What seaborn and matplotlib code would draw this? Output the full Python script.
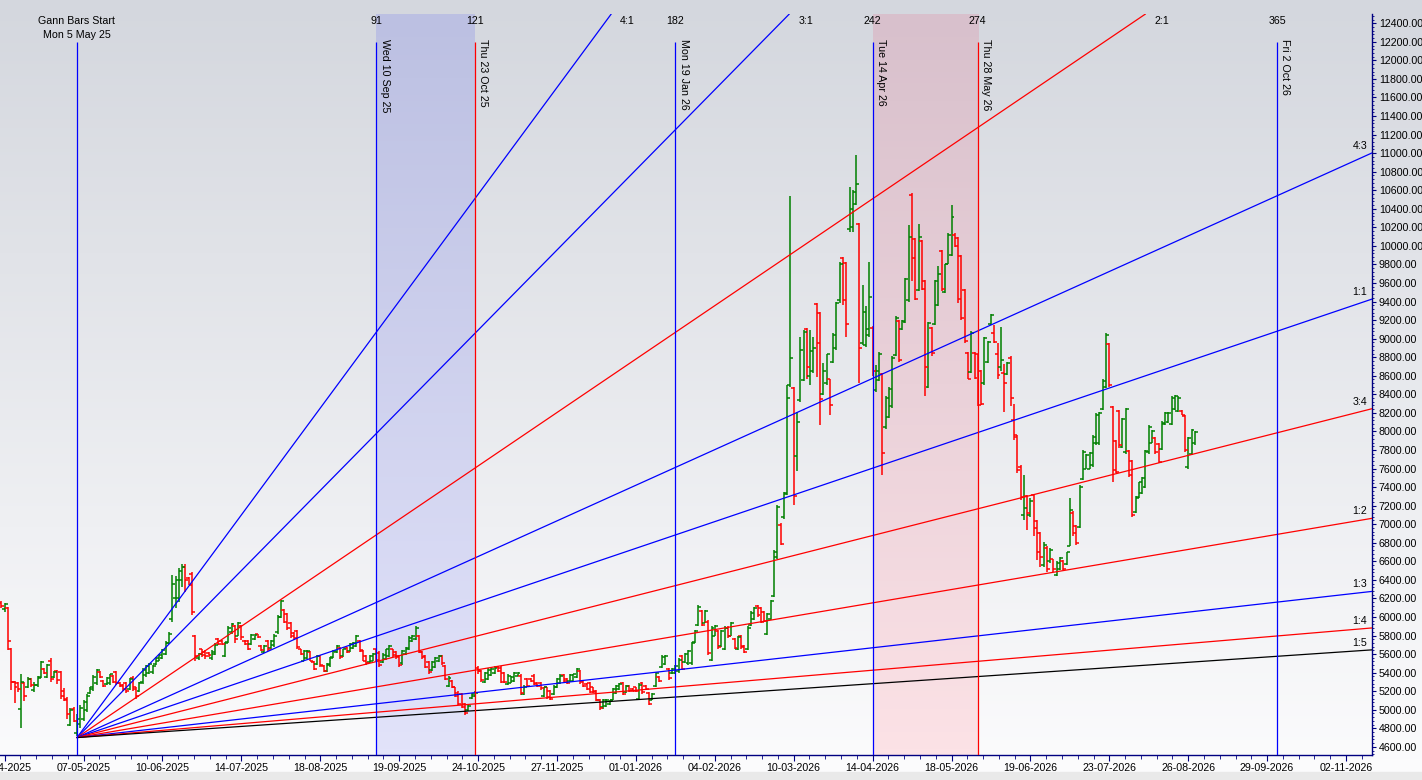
import numpy as np
import pandas as pd
import matplotlib
matplotlib.use('Agg')
import matplotlib.pyplot as plt
import matplotlib.transforms as mtransforms
from matplotlib.patches import Rectangle
from matplotlib.ticker import MultipleLocator, FixedLocator, FuncFormatter
import seaborn as sns

# ---- daily bars (bar 0 = Mon 5 May 25) ----
first_bar = -23
bar_open = [
    6150, 6090, 6100, 5660, 5300, 5290, 5010, 5290, 5250, 5330,
    5210, 5270, 5350, 5440, 5350, 5530, 5350, 5420, 5410, 5200,
    5120, 4840, 5010, 4750, 4850, 4900, 5000, 5180, 5220, 5290,
    5410, 5310, 5280, 5290, 5360, 5410, 5290, 5270, 5290, 5220,
    5340, 5240, 5200, 5300, 5370, 5400, 5410, 5490, 5530, 5560,
    5600, 5720, 5980, 6200, 6200, 6400, 6540, 6420, 6460, 5800,
    5560, 5650, 5620, 5610, 5560, 5600, 5760, 5740, 5580, 5730,
    5840, 5900, 5800, 5900, 5740, 5740, 5710, 5760, 5815, 5690,
    5620, 5740, 5670, 5700, 5840, 6000, 6080, 6030, 5940, 5830,
    5850, 5650, 5530, 5560, 5620, 5510, 5490, 5580, 5470, 5420,
    5480, 5570, 5620, 5670, 5580, 5670, 5630, 5670, 5690, 5740,
    5630, 5580, 5510, 5530, 5650, 5610, 5510, 5550, 5580, 5650,
    5620, 5580, 5500, 5600, 5650, 5740, 5760, 5790, 5620, 5580,
    5510, 5430, 5460, 5520, 5580, 5470, 5260, 5310, 5240, 5180,
    5170, 5060, 5000, 5130, 5150, 5450, 5420, 5300, 5330, 5370,
    5400, 5460, 5450, 5400, 5280, 5290, 5310, 5360, 5360, 5170,
    5330, 5330, 5360, 5290, 5290, 5150, 5240, 5200, 5170, 5240,
    5290, 5370, 5330, 5310, 5310, 5350, 5420, 5310, 5280, 5290,
    5240, 5200, 5110, 5030, 5040, 5060, 5110, 5180, 5220, 5290,
    5190, 5260, 5225, 5240, 5120, 5290, 5260, 5180, 5110, 5260,
    5350, 5460, 5490, 5440, 5400, 5400, 5420, 5580, 5510, 5500,
    5500, 5730, 5910, 6060, 5940, 5950, 5540, 5800, 5850, 5690,
    5660, 5880, 5800, 5760, 5660, 5790, 5690, 5660, 5910, 5980,
    6120, 6100, 6050, 5820, 5980, 6230, 6650, 6990, 7080, 7330,
    8500, 8470, 7730, 8340, 8550, 9100, 8600, 8650, 9370, 9280,
    8400, 8520, 8560, 8750, 8900, 9420, 9870, 9820, 10180, 10200,
    10450, 10240, 8950, 8930, 9040, 9120, 8450, 8550, 8620, 8050,
    8160, 8270, 8820, 9190, 9100, 9180, 9420, 10550, 10070, 9520,
    10050, 9620, 8480, 9120, 9160, 9360, 9940, 9500, 9810, 9900,
    10120, 10090, 9890, 9530, 8850, 8640, 8850, 8830, 8650, 8520,
    8750, 9160, 9060, 8840, 8700, 8630, 8620, 8790, 8120, 7940,
    7620, 7100, 7300, 7100, 7320, 7030, 6900, 6560, 6740, 6600,
    6620, 6450, 6520, 6600, 6570, 6770, 7120, 6980, 6970, 7490,
    7600, 7600, 7640, 7870, 7870, 8240, 8480, 8940, 8260, 7900,
    8220, 7830, 7780, 7790, 7680, 7130, 7290, 7340, 7400, 7780,
    7880, 7930, 7860, 7810, 8080, 8100, 8080, 8240, 8220, 8225,
    8170, 7620, 7760, 7870,
]
bar_high = [
    6170, 6150, 6110, 5670, 5310, 5300, 5390, 5300, 5350, 5340,
    5300, 5360, 5530, 5450, 5490, 5560, 5420, 5430, 5420, 5230,
    5140, 5020, 5030, 4950, 5050, 5100, 5170, 5250, 5370, 5440,
    5420, 5320, 5350, 5390, 5370, 5420, 5300, 5280, 5300, 5340,
    5360, 5250, 5300, 5450, 5480, 5500, 5480, 5570, 5600, 5660,
    5740, 5840, 6450, 6440, 6530, 6570, 6570, 6430, 6490, 5810,
    5610, 5660, 5640, 5620, 5640, 5720, 5770, 5750, 5730, 5900,
    5930, 5910, 5950, 5910, 5750, 5750, 5820, 5820, 5820, 5700,
    5700, 5750, 5750, 5820, 6020, 6180, 6090, 6040, 5950, 5840,
    5860, 5660, 5640, 5640, 5630, 5520, 5590, 5590, 5480, 5500,
    5570, 5640, 5700, 5680, 5660, 5680, 5720, 5730, 5810, 5750,
    5640, 5590, 5590, 5610, 5660, 5630, 5610, 5660, 5700, 5660,
    5630, 5590, 5640, 5680, 5790, 5810, 5900, 5810, 5630, 5590,
    5520, 5520, 5570, 5590, 5590, 5480, 5360, 5320, 5250, 5200,
    5180, 5070, 5050, 5180, 5200, 5470, 5430, 5410, 5450, 5450,
    5470, 5470, 5470, 5410, 5380, 5360, 5410, 5410, 5380, 5270,
    5340, 5340, 5380, 5300, 5300, 5250, 5250, 5210, 5270, 5340,
    5380, 5380, 5340, 5380, 5390, 5450, 5430, 5320, 5290, 5300,
    5250, 5210, 5120, 5120, 5120, 5110, 5230, 5270, 5290, 5300,
    5270, 5270, 5230, 5250, 5290, 5300, 5270, 5190, 5180, 5410,
    5360, 5590, 5590, 5450, 5450, 5480, 5560, 5590, 5610, 5640,
    5730, 5860, 6130, 6080, 6080, 5970, 5900, 5910, 5860, 5860,
    5900, 5900, 5950, 5770, 5790, 5810, 5700, 5900, 6060, 6110,
    6130, 6110, 6060, 6040, 6180, 6720, 7210, 7010, 7350, 8500,
    10540, 8480, 8210, 9020, 9090, 9110, 9090, 9020, 9380, 9290,
    8740, 8840, 8570, 9060, 9400, 9830, 9880, 9830, 10640, 10600,
    10980, 10250, 9580, 9350, 9830, 9140, 8720, 8860, 8630, 8380,
    8480, 8810, 9240, 9200, 9200, 9650, 10230, 10570, 10080, 10240,
    10060, 9630, 9180, 9130, 9630, 9780, 9960, 9810, 10140, 10440,
    10140, 10100, 9900, 9540, 8860, 9080, 8860, 8840, 8660, 9020,
    8970, 9270, 9150, 8950, 9130, 8730, 8750, 8810, 8300, 7960,
    7640, 7530, 7320, 7280, 7330, 7050, 6920, 6810, 6760, 6740,
    6630, 6600, 6650, 6610, 6700, 7280, 7140, 6990, 7420, 7800,
    7760, 7780, 7960, 8200, 8210, 8560, 9060, 8950, 8270, 7910,
    8230, 8140, 8250, 7800, 7690, 7300, 7460, 7510, 7800, 8070,
    8020, 7940, 7870, 8110, 8210, 8210, 8380, 8390, 8380, 8230,
    8180, 7940, 8030, 8000,
]
bar_low = [
    6100, 6050, 5640, 5210, 5070, 5190, 4800, 5090, 5230, 5250,
    5190, 5250, 5340, 5380, 5340, 5300, 5340, 5280, 5120, 5090,
    4900, 4820, 4870, 4720, 4800, 4880, 4980, 5170, 5200, 5270,
    5340, 5250, 5270, 5270, 5290, 5270, 5250, 5200, 5180, 5210,
    5200, 5120, 5190, 5280, 5350, 5380, 5390, 5480, 5520, 5550,
    5590, 5710, 5950, 6100, 6160, 6320, 6270, 6340, 6020, 5520,
    5540, 5570, 5550, 5570, 5540, 5590, 5700, 5700, 5570, 5720,
    5820, 5720, 5790, 5750, 5700, 5640, 5700, 5750, 5770, 5630,
    5610, 5630, 5660, 5680, 5820, 5990, 5930, 5860, 5770, 5750,
    5660, 5590, 5520, 5550, 5520, 5430, 5480, 5460, 5410, 5410,
    5460, 5560, 5610, 5550, 5570, 5610, 5620, 5660, 5680, 5620,
    5520, 5480, 5500, 5520, 5520, 5460, 5500, 5540, 5570, 5570,
    5550, 5460, 5480, 5590, 5640, 5730, 5750, 5610, 5550, 5450,
    5390, 5420, 5450, 5510, 5480, 5320, 5250, 5230, 5140, 5050,
    5020, 4940, 4990, 5120, 5140, 5390, 5300, 5290, 5320, 5360,
    5390, 5410, 5290, 5290, 5270, 5290, 5300, 5360, 5160, 5160,
    5250, 5300, 5270, 5250, 5210, 5140, 5120, 5100, 5160, 5230,
    5280, 5300, 5280, 5300, 5300, 5340, 5280, 5250, 5210, 5180,
    5180, 5090, 5000, 5010, 5030, 5050, 5100, 5170, 5210, 5160,
    5180, 5190, 5190, 5190, 5100, 5170, 5210, 5050, 5100, 5250,
    5300, 5450, 5480, 5320, 5390, 5390, 5400, 5430, 5500, 5480,
    5480, 5720, 5900, 5900, 5930, 5590, 5520, 5790, 5660, 5680,
    5640, 5770, 5790, 5660, 5640, 5660, 5610, 5640, 5900, 5970,
    6000, 5930, 5950, 5810, 5970, 6220, 6630, 6780, 7060, 7310,
    8480, 7210, 7570, 8320, 8540, 8570, 8500, 8630, 8590, 8070,
    8390, 8500, 8180, 8740, 8880, 9380, 9360, 9020, 10150, 10150,
    10440, 8520, 8930, 8910, 9020, 8600, 8430, 8540, 7530, 8030,
    8140, 8250, 8810, 8750, 9090, 9170, 9400, 9620, 9420, 9510,
    9520, 8380, 8470, 8810, 9150, 9350, 9510, 9490, 9800, 9890,
    9990, 9380, 9200, 8950, 8560, 8630, 8570, 8270, 8290, 8500,
    8740, 9150, 8950, 8570, 8650, 8210, 8610, 8270, 7910, 7550,
    7260, 7050, 6940, 7080, 6870, 6610, 6540, 6540, 6490, 6580,
    6490, 6440, 6510, 6510, 6560, 6760, 6870, 6780, 6960, 7480,
    7590, 7590, 7620, 7850, 7850, 8230, 8470, 8480, 7460, 7550,
    7820, 7820, 7760, 7510, 7080, 7120, 7280, 7330, 7390, 7760,
    7870, 7760, 7660, 7800, 8070, 8090, 8070, 8230, 8210, 8180,
    7780, 7600, 7750, 7850,
]
bar_close = [
    6120, 6140, 5740, 5300, 5250, 5220, 5300, 5150, 5330, 5270,
    5270, 5340, 5510, 5400, 5480, 5330, 5410, 5320, 5150, 5110,
    4950, 5000, 4880, 4900, 5020, 5080, 5150, 5240, 5350, 5430,
    5350, 5260, 5340, 5380, 5300, 5290, 5260, 5220, 5200, 5330,
    5220, 5150, 5290, 5430, 5470, 5490, 5470, 5560, 5590, 5640,
    5720, 5820, 6350, 6400, 6500, 6540, 6400, 6340, 6050, 5580,
    5600, 5590, 5580, 5590, 5620, 5700, 5710, 5710, 5720, 5880,
    5920, 5760, 5930, 5780, 5710, 5660, 5810, 5810, 5780, 5640,
    5690, 5650, 5740, 5800, 6000, 6170, 5950, 5880, 5790, 5770,
    5680, 5600, 5630, 5630, 5530, 5440, 5580, 5480, 5420, 5490,
    5560, 5630, 5690, 5570, 5650, 5620, 5710, 5720, 5800, 5640,
    5530, 5500, 5580, 5600, 5540, 5480, 5590, 5650, 5690, 5590,
    5570, 5480, 5630, 5670, 5770, 5790, 5880, 5620, 5570, 5460,
    5410, 5510, 5560, 5580, 5500, 5330, 5340, 5240, 5150, 5060,
    5030, 4960, 5040, 5170, 5185, 5420, 5320, 5400, 5430, 5440,
    5450, 5420, 5300, 5300, 5360, 5350, 5400, 5400, 5180, 5250,
    5260, 5310, 5280, 5260, 5230, 5240, 5140, 5120, 5250, 5330,
    5360, 5310, 5290, 5370, 5380, 5440, 5300, 5260, 5220, 5190,
    5190, 5100, 5020, 5110, 5110, 5100, 5220, 5260, 5280, 5170,
    5260, 5200, 5200, 5200, 5270, 5190, 5220, 5060, 5170, 5400,
    5310, 5570, 5580, 5340, 5440, 5470, 5540, 5440, 5600, 5630,
    5720, 5850, 6110, 5910, 6060, 5610, 5880, 5900, 5680, 5850,
    5880, 5790, 5940, 5670, 5780, 5680, 5620, 5880, 6040, 6100,
    6020, 5950, 5960, 6030, 6170, 6700, 7190, 6790, 7340, 8360,
    8790, 7300, 8100, 8880, 9070, 8690, 8870, 8900, 8950, 8350,
    8650, 8830, 8290, 9040, 9380, 9810, 9420, 9160, 10400, 10580,
    10670, 8900, 9290, 9100, 9450, 8650, 8650, 8830, 7770, 8360,
    8460, 8790, 9220, 8770, 9190, 9640, 10100, 9870, 9430, 10100,
    9540, 8690, 9170, 8850, 9620, 9700, 9540, 9800, 10120, 10310,
    10000, 9430, 9220, 8970, 8570, 9060, 8580, 8290, 8300, 9010,
    8960, 9260, 8960, 8610, 8770, 8520, 8740, 8360, 7960, 7580,
    7290, 7170, 7120, 7250, 6960, 6700, 6650, 6780, 6520, 6720,
    6520, 6580, 6640, 6520, 6700, 7150, 6900, 6800, 7400, 7780,
    7750, 7770, 7940, 8180, 8200, 8540, 9040, 8500, 7580, 7560,
    7850, 8130, 8240, 7530, 7100, 7280, 7450, 7500, 7790, 8050,
    8000, 7780, 7670, 8090, 8200, 8200, 8360, 8380, 8360, 8180,
    7800, 7930, 8020, 7990,
]

# ---- x axis date labels (every 24 bars) ----
date_labels = ["02-04-2025", "07-05-2025", "10-06-2025", "14-07-2025", "18-08-2025",
               "19-09-2025", "24-10-2025", "27-11-2025", "01-01-2026", "04-02-2026",
               "10-03-2026", "14-04-2026", "18-05-2026", "19-06-2026", "23-07-2026",
               "26-08-2026", "29-09-2026", "02-11-2026"]

# ---- gann bar counts ----
gann_bars = [0, 91, 121, 182, 242, 274, 365]
gann_dates = ["Mon 5 May 25", "Wed 10 Sep 25", "Thu 23 Oct 25", "Mon 19 Jan 26",
              "Tue 14 Apr 26", "Thu 28 May 26", "Fri 2 Oct 26"]
gann_colors = ["#0000ff", "#0000ff", "#ff0000", "#0000ff", "#0000ff", "#ff0000", "#0000ff"]

# ---- gann fan ----
fan_names = ["4:1", "3:1", "2:1", "4:3", "1:1", "3:4", "1:2", "1:3", "1:4", "1:5"]
fan_ratios = [4, 3, 2, 4 / 3, 1, 3 / 4, 1 / 2, 1 / 3, 1 / 4, 1 / 5]
fan_colors = ["#0000ff", "#0000ff", "#ff0000", "#0000ff", "#0000ff",
              "#ff0000", "#ff0000", "#0000ff", "#ff0000", "#000000"]
fan_origin_price = 4700
price_per_bar = 12

# ---------------------------------------------------------------
sns.set_theme(style='white')
plt.rcParams['font.family'] = ['Liberation Sans', 'DejaVu Sans']
FS = 7.7
NAVY = '#000080'

x_lo, x_hi = -23.42, 393.9
y_lo, y_hi = 4512, 12500

fig = plt.figure(figsize=(14.22, 7.80), dpi=100)

# background gradient for the whole window
bg = fig.add_axes([0, 0, 1, 1], zorder=0)
t = np.linspace(0, 1, 256)[:, None, None]
c_top = np.array([212, 215, 222]) / 255
c_bot = np.array([252, 252, 253]) / 255
bg.imshow(c_top + (c_bot - c_top) * t, aspect='auto', extent=[0, 1, 0, 1], origin='upper')
bg.add_patch(Rectangle((0, 0), 1, 8 / 780, color='#e9e9e9'))
bg.set_xlim(0, 1)
bg.set_ylim(0, 1)
bg.axis('off')

ax = fig.add_axes([0, 25 / 780, 1372 / 1422, 741 / 780], zorder=1)
ax.patch.set_alpha(0)


def shade(x0, x1, top, bot):
    g = np.linspace(0, 1, 128)[:, None, None]
    a = np.array(top) / 255
    b = np.array(bot) / 255
    ax.imshow(a + (b - a) * g, extent=[x0, x1, y_lo, y_hi], aspect='auto',
              origin='upper', zorder=0.5)


shade(gann_bars[1], gann_bars[2], (188, 192, 226), (226, 227, 250))
shade(gann_bars[4], gann_bars[5], (216, 192, 204), (252, 226, 230))

# OHLC bars
bars = np.arange(first_bar, first_bar + len(bar_close))
o = np.array(bar_open)
c = np.array(bar_close)
cols = np.where(c >= o, '#008000', '#ff0000')
ax.vlines(bars, bar_low, bar_high, colors=cols, lw=1.1, zorder=2)
ax.hlines(o, bars - 0.9, bars, colors=cols, lw=1.1, zorder=2)
ax.hlines(c, bars, bars + 0.9, colors=cols, lw=1.1, zorder=2)

# gann fan via seaborn
rows = []
for name, r in zip(fan_names, fan_ratios):
    slope = price_per_bar * r
    x_end = min(x_hi, (y_hi - fan_origin_price) / slope)
    rows.append({'ratio': name, 'bar': 0, 'price': fan_origin_price})
    rows.append({'ratio': name, 'bar': x_end, 'price': fan_origin_price + slope * x_end})
fan_df = pd.DataFrame(rows)
sns.lineplot(data=fan_df, x='bar', y='price', hue='ratio', hue_order=fan_names,
             palette=dict(zip(fan_names, fan_colors)), legend=False,
             estimator=None, sort=False, lw=0.9, ax=ax, zorder=3)

top_row = mtransforms.blended_transform_factory(ax.transData, ax.transAxes)
for name, r in zip(fan_names, fan_ratios):
    slope = price_per_bar * r
    x_top = (y_hi - fan_origin_price) / slope
    if x_top < x_hi:
        ax.text(x_top + 5, 0.9906, name, transform=top_row, ha='center', va='center',
                fontsize=FS, color='black')
    else:
        ax.annotate(name, xy=(x_hi, fan_origin_price + slope * x_hi),
                    xytext=(-3.5, 1.5), textcoords='offset points',
                    ha='right', va='bottom', fontsize=FS, color='black')

# vertical gann count lines
for i, (b, d, col) in enumerate(zip(gann_bars, gann_dates, gann_colors)):
    ax.vlines(b, y_lo, 12200, colors=col, lw=0.9, zorder=3)
    if i == 0:
        ax.text(b, 0.9906, 'Gann Bars Start', transform=top_row, ha='center',
                va='center', fontsize=FS, color='black')
        ax.text(b, 0.9717, d, transform=top_row, ha='center', va='center',
                fontsize=FS, color='black')
    else:
        ax.text(b, 0.9906, str(b), transform=top_row, ha='center', va='center',
                fontsize=FS, color='black')
        ax.annotate(d, xy=(b, 0.966), xycoords=top_row, xytext=(2.5, 0),
                    textcoords='offset points', rotation=270, ha='left', va='top',
                    fontsize=FS, color='black')

ax.set_xlim(x_lo, x_hi)
ax.set_ylim(y_lo, y_hi)
ax.set_xlabel('')
ax.set_ylabel('')

# axes styling
for s in ['top', 'left']:
    ax.spines[s].set_visible(False)
for s in ['right', 'bottom']:
    ax.spines[s].set_visible(True)
    ax.spines[s].set_color(NAVY)
    ax.spines[s].set_linewidth(1.0)

ax.yaxis.tick_right()
ax.yaxis.set_major_locator(MultipleLocator(200))
ax.yaxis.set_minor_locator(MultipleLocator(40))
ax.yaxis.set_major_formatter(FuncFormatter(lambda v, p: f'{v:.2f}'))
ax.tick_params(axis='y', which='both', right=True, left=False, direction='out',
               color=NAVY, labelsize=FS, labelcolor='black', pad=2)
ax.tick_params(axis='y', which='major', length=3, width=0.8)
ax.tick_params(axis='y', which='minor', length=1.5, width=0.6)

major_x = np.arange(len(date_labels)) * 24 - 22
ax.xaxis.set_major_locator(FixedLocator(major_x))
ax.xaxis.set_minor_locator(FixedLocator(np.arange(-22, x_hi, 4.8)))
ax.set_xticklabels(date_labels)
ax.tick_params(axis='x', which='both', bottom=True, top=False, direction='out',
               color=NAVY, labelsize=FS, labelcolor='black', pad=2)
ax.tick_params(axis='x', which='major', length=4, width=0.8)
ax.tick_params(axis='x', which='minor', length=3, width=0.6)
ax.grid(False)

fig.savefig('out.png', dpi=100)
